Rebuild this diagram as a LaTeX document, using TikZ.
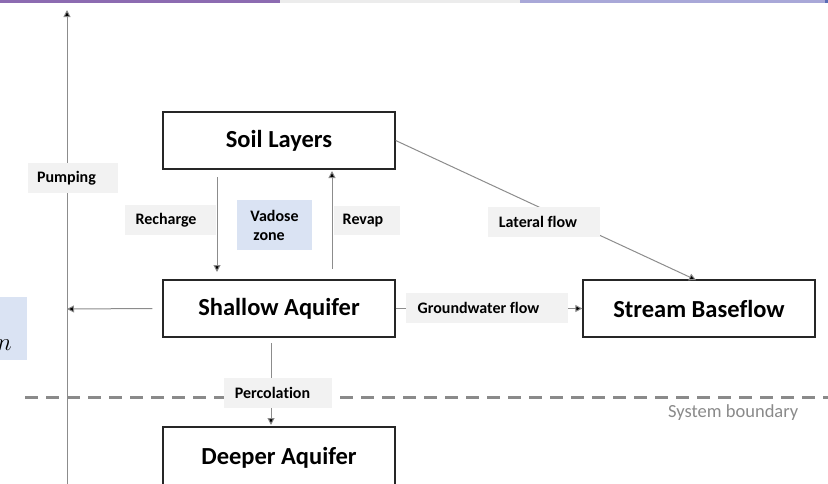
\documentclass[tikz,border=0pt]{standalone}
\usepackage{fontspec}
\setmainfont{Carlito}[Ligatures=NoCommon]
\usetikzlibrary{arrows.meta}
\definecolor{lblgray}{HTML}{F2F2F2}
\definecolor{lblblue}{HTML}{DAE3F3}
\definecolor{conn}{HTML}{8C8C8C}
\definecolor{dashc}{HTML}{8A8A8A}
\definecolor{hdrA}{HTML}{8C6BB1}
\definecolor{hdrB}{HTML}{A9A8D8}
\definecolor{hdrC}{HTML}{5B6DB5}
\tikzset{
  box/.style={draw=black!85, line width=1.3pt, fill=white, font=\bfseries\fontsize{24.5}{28}\selectfont, inner sep=0pt},
  lbl/.style={fill=lblgray, font=\bfseries\fontsize{16}{18}\selectfont, inner sep=0pt},
  conline/.style={draw=conn, line width=1pt},
  arr/.style={conline, -{Triangle[length=7pt,width=7pt,fill=black]}},
}
\begin{document}
\begin{tikzpicture}[x=1pt,y=-1pt]
\useasboundingbox (0,0) rectangle (828,483);
\clip (0,0) rectangle (828,483);
% header strip fragments
\fill[hdrA] (0,0) rectangle (280,2.5);
\fill[gray!15] (280,0) rectangle (520,2.5);
\fill[hdrB] (520,0) rectangle (825,2.5);
\fill[hdrC] (825,0) rectangle (828,2.5);
% cut-off left box
\node[fill=lblblue, minimum width=27pt, minimum height=63pt, inner sep=0pt, anchor=north west] (leftbox) at (0,297) {};
\node[anchor=base west, inner sep=0pt, font=\fontsize{26}{28}\selectfont] (nfrag) at (-3,350) {$n$};
% system boundary
\coordinate (sbL) at (25,397);
\coordinate (sbR) at (828,397);
\draw[dashc, line width=3pt, dash pattern=on 13pt off 8pt] (sbL) -- (sbR);
\node[anchor=base west, inner sep=0pt, text=dashc, font=\fontsize{18.5}{20}\selectfont] (sbtext) at (668,417) {System boundary};
% boxes
\node[box, minimum width=232pt, minimum height=57pt] (soil) at (279,140.5) {Soil Layers};
\node[box, minimum width=232pt, minimum height=57pt] (shallow) at (279,308.5) {Shallow Aquifer};
\node[box, minimum width=232pt, minimum height=57pt] (stream) at (699,308.5) {Stream Baseflow};
\node[box, minimum width=232pt, minimum height=62pt] (deeper) at (279,458) {Deeper Aquifer};
% pumping
\coordinate (pumpTop) at (67,10);
\coordinate (pumpBot) at (67,490);
\coordinate (pumpJoin) at (67,309);
\draw[arr] (pumpBot) -- (pumpTop);
\draw[arr] ([xshift=-10pt]shallow.west) -- (pumpJoin);
\node[lbl, minimum width=90pt, minimum height=30pt] (pumping) at (73,178) {\hspace*{-13pt}Pumping};
% recharge / revap
\coordinate (rcTop) at (217,177);
\coordinate (rcBot) at (217,272);
\draw[arr] (rcTop) -- (rcBot);
\node[lbl, minimum width=91pt, minimum height=30pt] (recharge) at (170.5,220) {\hspace*{-9pt}Recharge};
\coordinate (rvBot) at (332,269);
\coordinate (rvTop) at (332,171);
\draw[arr] (rvBot) -- (rvTop);
\node[lbl, minimum width=66pt, minimum height=29pt] (revap) at (367,220.5) {\hspace*{-8pt}Revap};
\node[fill=lblblue, minimum width=75pt, minimum height=50pt, inner sep=0pt, font=\bfseries\fontsize{16}{19}\selectfont, align=left] (vadose) at (274.5,225) {Vadose\\\hspace*{3pt}zone};
% lateral flow
\coordinate (latEnd) at (696,280);
\draw[arr] (soil.east) -- (latEnd);
\node[lbl, minimum width=112pt, minimum height=30pt] (lateral) at (544,222) {\hspace*{-12pt}Lateral flow};
% groundwater flow
\draw[arr] (shallow.east) -- (stream.west);
\node[lbl, minimum width=162pt, minimum height=30pt] (gw) at (487,308) {\hspace*{-17pt}Groundwater flow};
% percolation
\coordinate (pcTop) at (271,343);
\coordinate (pcBot) at (271,425);
\draw[arr] (pcTop) -- (pcBot);
\node[lbl, minimum width=108pt, minimum height=30pt] (perc) at (278,393) {\hspace*{-11pt}Percolation};
\end{tikzpicture}
\end{document}
